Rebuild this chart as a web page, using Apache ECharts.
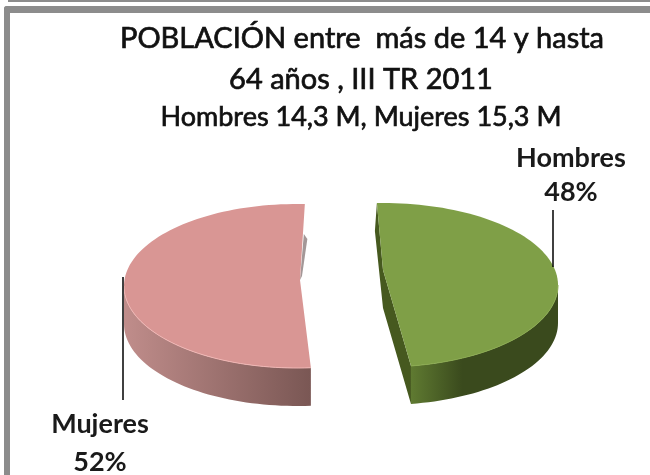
<!DOCTYPE html>
<html>
<head>
<meta charset="utf-8">
<style>
  html, body { margin: 0; padding: 0; background: #fff; }
  /* the reference is a soft, upscaled picture */
  #chart { width: 650px; height: 475px; filter: blur(0.5px); }
</style>
<script src="https://cdn.jsdelivr.net/npm/echarts@6/dist/echarts.min.js"></script>
</head>
<body>
<div id="chart"></div>
<script>
const categories = ['Hombres', 'Mujeres']
const shares = [48, 52]
const titleLines = [
  'POBLACIÓN entre  más de 14 y hasta',
  '64 años , III TR 2011',
  'Hombres 14,3 M, Mujeres 15,3 M',
]

// where each slice sits: exploded apart, seen from above
const sliceLayout = [
  { cx: 383, cy: 285, rx: 175, ry: 82, tipX: 383, tipY: 270, start: -2 },
  { cx: 297, cy: 286, rx: 173, ry: 82, tipX: 300, tipY: 280, start: 175.4 },
]
const DEPTH = 38

const sliceColors = [
  { top: '#7f9f47', rim: '#8aaa50', wallFrom: '#5f7a31', wallTo: '#3a4a1d', cut: '#46591f' },
  { top: '#d99694', rim: '#f0b6b4', wallFrom: '#c08d8b', wallTo: '#7a5754', cut: '#a39797' },
]

const labelLayout = [
  { x: 571, nameY: 158, pctY: 192, line: [553, 210, 553, 267] },
  { x: 100, nameY: 424, pctY: 462, line: [123, 277, 123, 400] },
]

const FONT = 'Lato'

function arcPoint(l, deg, dy) {
  const t = deg * Math.PI / 180
  return [l.cx + l.rx * Math.sin(t), l.cy - l.ry * Math.cos(t) + (dy || 0)]
}

function arcPoints(l, from, to, dy) {
  const pts = []
  const steps = Math.max(2, Math.ceil(Math.abs(to - from) / 2))
  for (let i = 0; i <= steps; i++) pts.push(arcPoint(l, from + (to - from) * i / steps, dy))
  return pts
}

function labelText(x, y, text) {
  return {
    type: 'text',
    style: {
      x, y, text,
      fill: '#1a1a1a',
      fontFamily: FONT,
      fontSize: 27,
      fontWeight: 'bold',
      align: 'center',
      verticalAlign: 'middle',
    },
  }
}

function renderSlice(params, api) {
  const i = params.dataIndex
  const l = sliceLayout[i]
  const c = sliceColors[i]
  const sweep = api.value(0) / 100 * 360
  const end = l.start + sweep
  const p0 = arcPoint(l, l.start)
  const p1 = arcPoint(l, end)
  const children = []

  // cut face
  if (i === 0) {
    children.push({
      type: 'polygon',
      shape: { points: [p0, [l.tipX, l.tipY], p1, [p1[0], p1[1] + DEPTH], [l.tipX, l.tipY + DEPTH], [p0[0] - 2, p0[1] + 28]] },
      style: { fill: c.cut },
    })
  } else {
    children.push({
      type: 'polygon',
      shape: { points: [[p1[0] - 1, p1[1] + 30], [p1[0] + 2.5, p1[1] + 35], [l.tipX + 2, l.tipY - 4], [l.tipX, l.tipY]] },
      style: { fill: c.cut },
    })
  }

  // outer wall, only the front half of the rim shows
  const wallFrom = Math.max(l.start, 90)
  const wallTo = Math.min(end, 270)
  const front = arcPoints(l, wallFrom, wallTo)
  const back = arcPoints(l, wallTo, wallFrom, DEPTH)
  children.push({
    type: 'polygon',
    shape: { points: front.concat(back) },
    style: {
      fill: new echarts.graphic.LinearGradient(0, 0, 1, 0, i === 0
        ? [{ offset: 0, color: c.wallFrom }, { offset: 0.35, color: c.wallTo }, { offset: 1, color: c.wallTo }]
        : [{ offset: 0, color: c.wallFrom }, { offset: 1, color: c.wallTo }]),
    },
  })

  // top face
  children.push({
    type: 'polygon',
    shape: { points: [[l.tipX, l.tipY]].concat(arcPoints(l, l.start, end)) },
    style: { fill: c.top },
  })
  children.push({
    type: 'polyline',
    shape: { points: front },
    style: { stroke: c.rim, fill: 'none', lineWidth: 1 },
  })

  // leader and label
  const lab = labelLayout[i]
  children.push({
    type: 'line',
    shape: { x1: lab.line[0], y1: lab.line[1], x2: lab.line[2], y2: lab.line[3] },
    style: { stroke: '#000', lineWidth: 1.5 },
  })
  children.push(labelText(lab.x, lab.nameY, categories[i]))
  children.push(labelText(lab.x, lab.pctY, api.value(0) + '%'))

  return { type: 'group', children }
}

const titleStyle = size => ({
  fontFamily: FONT,
  fontSize: size,
  fontWeight: 'normal',
  color: '#111',
  textBorderColor: '#111',
  textBorderWidth: 0.7,
})

const chart = echarts.init(document.getElementById('chart'), null, { renderer: 'canvas' })
chart.setOption({
  animation: false,
  backgroundColor: '#fff',
  title: [
    { text: titleLines[0], left: 357, top: 19, textAlign: 'center', textStyle: titleStyle(29) },
    { text: titleLines[1], left: 356, top: 60, textAlign: 'center', textStyle: titleStyle(29) },
    { text: titleLines[2], left: 356, top: 99, textAlign: 'center', textStyle: titleStyle(27) },
  ],
  graphic: [
    { type: 'rect', shape: { x: 8, y: 0, width: 642, height: 2 }, style: { fill: '#8c8c8c' } },
    { type: 'rect', shape: { x: 4, y: 6, width: 646, height: 7, r: [3, 0, 0, 0] }, style: { fill: '#8c8c8c' } },
    { type: 'rect', shape: { x: 4, y: 6, width: 6, height: 469, r: [3, 0, 0, 0] }, style: { fill: '#8c8c8c' } },
  ],
  series: [{
    type: 'custom',
    coordinateSystem: 'none',
    renderItem: renderSlice,
    data: shares.map((v, i) => ({ name: categories[i], value: [v] })),
  }],
})
</script>
</body>
</html>
